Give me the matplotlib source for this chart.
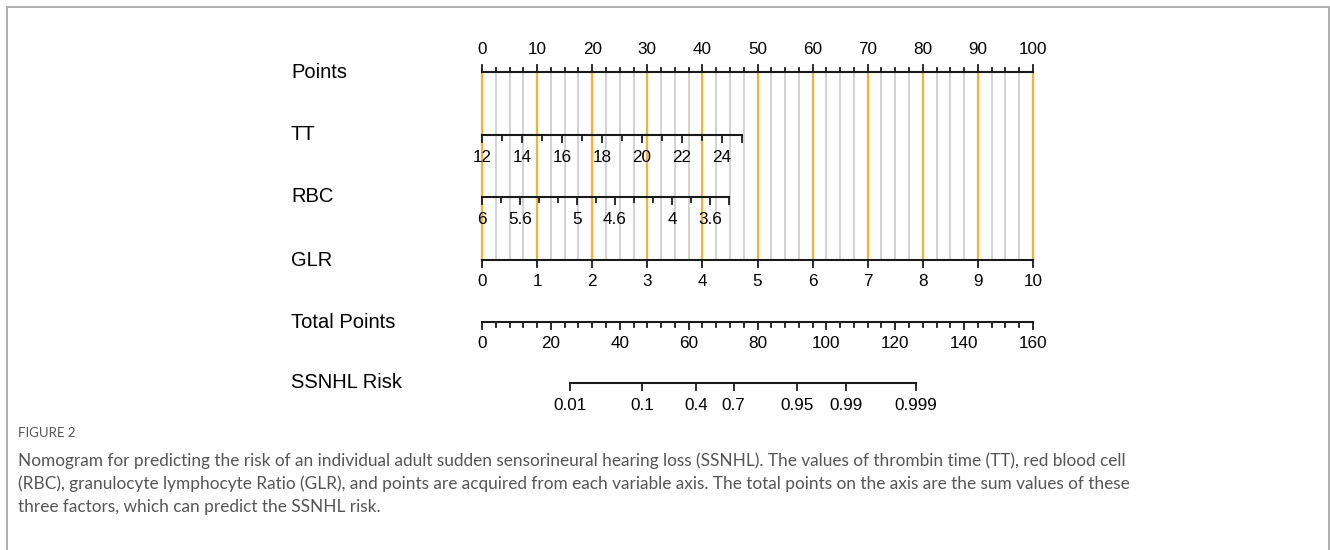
import numpy as np
import matplotlib
matplotlib.use('Agg')
import matplotlib.pyplot as plt
from matplotlib.patches import Rectangle

# nomogram scales
points_labels = [0, 10, 20, 30, 40, 50, 60, 70, 80, 90, 100]
points_ticks = np.arange(0, 100.1, 2.5)

tt_ticks = [12, 13, 14, 15, 16, 17, 18, 19, 20, 21, 22, 23, 24, 25]
tt_labels = [12, 14, 16, 18, 20, 22, 24]
tt_min, tt_per_unit = 12, 3.63

rbc_ticks = [6, 5.8, 5.6, 5.4, 5.2, 5, 4.8, 4.6, 4.4, 4.2, 4, 3.8, 3.6, 3.4]
rbc_labels = [6, 5.6, 5, 4.6, 4, 3.6]
rbc_max, rbc_per_unit = 6, 17.24

glr_ticks = [0, 1, 2, 3, 4, 5, 6, 7, 8, 9, 10]
glr_per_unit = 10

total_ticks = np.arange(0, 161, 4)
total_labels = [0, 20, 40, 60, 80, 100, 120, 140, 160]
total_max = 160

risk_labels = [0.01, 0.1, 0.4, 0.7, 0.95, 0.99, 0.999]
risk_lp0, risk_scale = 65.65, 8.73   # total points at logit 0, points per logit

caption_head = 'FIGURE 2'
caption_lines = [
    'Nomogram for predicting the risk of an individual adult sudden sensorineural hearing loss (SSNHL). The values of thrombin time (TT), red blood cell',
    '(RBC), granulocyte lymphocyte Ratio (GLR), and points are acquired from each variable axis. The total points on the axis are the sum values of these',
    'three factors, which can predict the SSNHL risk.',
]


def tt_pts(v):
    return (np.asarray(v, float) - tt_min) * tt_per_unit


def rbc_pts(v):
    return (rbc_max - np.asarray(v, float)) * rbc_per_unit


def glr_pts(v):
    return np.asarray(v, float) * glr_per_unit


def total_pts(v):
    return np.asarray(v, float) * 100.0 / total_max


def risk_pts(p):
    p = np.asarray(p, float)
    return total_pts(risk_lp0 + risk_scale * np.log(p / (1 - p)))


W, H = 1330, 550
x0, px_per_pt = 482, 5.51

plt.rcParams['font.family'] = ['Liberation Sans', 'DejaVu Sans']
fig = plt.figure(figsize=(W / 100, H / 100), dpi=100)
ax = fig.add_axes([0, 0, 1, 1])
ax.set_xlim(-x0 / px_per_pt, (W - x0) / px_per_pt)
ax.set_ylim(H, 0)
ax.axis('off')

# frame
fig.patches.append(Rectangle((6.5 / W, -0.1), (1329 - 6.5) / W, (H - 6.5) / H + 0.1,
                             transform=fig.transFigure, fill=False,
                             edgecolor='#a8a8a8', linewidth=1.3))

y_pts, y_tt, y_rbc, y_glr, y_tot, y_risk = 72, 135, 197, 260, 322, 383
lab_x = (291 - x0) / px_per_pt
tick_fs, name_fs = 12.3, 14.5
lc = '#1a1a1a'

# reference grid lines
for g in points_ticks:
    major = abs(g % 10) < 1e-9
    ax.plot([g, g], [y_pts, y_glr], color='#f5b335' if major else '#cfcfcf',
            lw=1.6 if major else 1.3, zorder=1)

# Points axis (ticks up, labels above)
ax.plot([0, 100], [y_pts, y_pts], color=lc, lw=1.5, zorder=3)
for t in points_ticks:
    major = t in points_labels
    ax.plot([t, t], [y_pts, y_pts - (7 if major else 4)], color=lc, lw=1.3, zorder=3)
for t in points_labels:
    ax.text(t, y_pts - 22, str(t), ha='center', va='center', fontsize=tick_fs)


def draw_axis(y, pos_ticks, pos_major, pos_labels, labels):
    ax.plot([min(pos_ticks), max(pos_ticks)], [y, y], color=lc, lw=1.5, zorder=3)
    for p in pos_ticks:
        big = any(abs(p - m) < 1e-6 for m in pos_major)
        ax.plot([p, p], [y, y + (7 if big else 4.5)], color=lc, lw=1.3, zorder=3)
    for p, s in zip(pos_labels, labels):
        ax.text(p, y + 22, s, ha='center', va='center', fontsize=tick_fs, zorder=4)


def fmt(v):
    return ('%g' % v)


draw_axis(y_tt, tt_pts(tt_ticks), tt_pts(tt_labels + [25]), tt_pts(tt_labels),
          [fmt(v) for v in tt_labels])
draw_axis(y_rbc, rbc_pts(rbc_ticks), rbc_pts(rbc_labels + [3.4]), rbc_pts(rbc_labels),
          [fmt(v) for v in rbc_labels])
draw_axis(y_glr, glr_pts(glr_ticks), glr_pts(glr_ticks), glr_pts(glr_ticks),
          [fmt(v) for v in glr_ticks])
draw_axis(y_tot, total_pts(total_ticks), total_pts(total_labels), total_pts(total_labels),
          [fmt(v) for v in total_labels])
draw_axis(y_risk, risk_pts(risk_labels), risk_pts(risk_labels), risk_pts(risk_labels),
          [fmt(v) for v in risk_labels])

for name, y in [('Points', y_pts), ('TT', y_tt), ('RBC', y_rbc), ('GLR', y_glr),
                ('Total Points', y_tot), ('SSNHL Risk', y_risk)]:
    ax.text(lab_x, y, name, ha='left', va='center', fontsize=name_fs)

# caption
cap_family = ['Lato', 'Open Sans', 'DejaVu Sans']
fig.text(18 / W, 1 - 433 / H, caption_head, ha='left', va='center', fontsize=9.5,
         color='#555555', family=cap_family)
for i, line in enumerate(caption_lines):
    fig.text(18 / W, 1 - (461 + 23 * i) / H, line, ha='left', va='center',
             fontsize=12.4, color='#555555', family=cap_family)

fig.savefig('out.png', dpi=100)
